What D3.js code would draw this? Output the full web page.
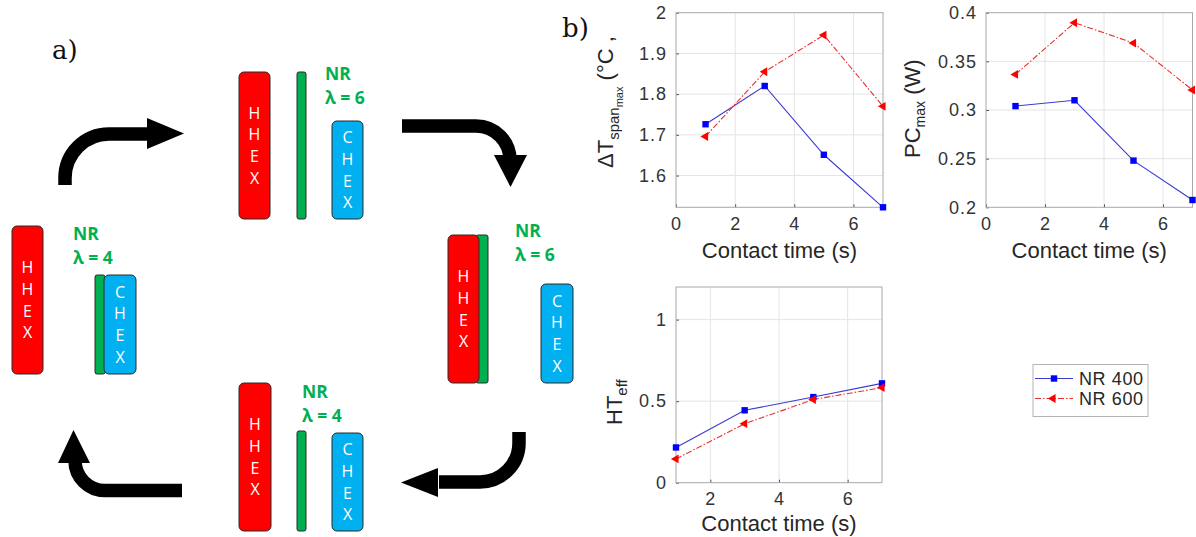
<!DOCTYPE html>
<html>
<head>
<meta charset="utf-8">
<script src="https://cdn.jsdelivr.net/npm/d3@7"></script>
<style>
  html, body { margin: 0; padding: 0; background: #ffffff; }
  svg { display: block; }
</style>
</head>
<body>
<svg id="fig" width="1196" height="537"></svg>
<script>
// ---------------- DATA ----------------
const contactTime = [1, 3, 5, 7];
const seriesNames = ["NR 400", "NR 600"];
const dTspan400 = [1.726, 1.820, 1.651, 1.522];
const dTspan600 = [1.696, 1.855, 1.945, 1.770];
const pcMax400 = [0.304, 0.310, 0.248, 0.2075];
const pcMax600 = [0.3366, 0.3897, 0.3688, 0.3206];
const htEff400 = [0.216, 0.444, 0.525, 0.609];
const htEff600 = [0.146, 0.362, 0.510, 0.583];
const xTicksTop = [0, 2, 4, 6];
const xTicksBottom = [2, 4, 6];
const yTicksDT = [1.6, 1.7, 1.8, 1.9, 2];
const yTicksPC = [0.2, 0.25, 0.3, 0.35, 0.4];
const yTicksHT = [0, 0.5, 1];
const xAxisTitle = "Contact time (s)";

// ---------------- SETUP ----------------
const svg = d3.select("#fig");
const chartFont = "'Liberation Sans', Arial, Helvetica, sans-serif";
const diagFont = "'Open Sans', 'Noto Sans', sans-serif";
const textCol = "#262626";
const blue = "#0000ff", red = "#ff0000";

// ---------------- PANEL (b) ----------------
function drawPanel(cfg) {
  const g = svg.append("g");
  const x = d3.scaleLinear().domain(cfg.xDomain).range([cfg.left, cfg.left + cfg.width]);
  const y = d3.scaleLinear().domain(cfg.yDomain).range([cfg.top + cfg.height, cfg.top]);

  g.append("rect").attr("x", cfg.left).attr("y", cfg.top)
    .attr("width", cfg.width).attr("height", cfg.height).attr("fill", "#fff");

  // grid
  g.append("g").selectAll("line").data(cfg.xTicks.filter(t => x(t) > cfg.left + 1 && x(t) < cfg.left + cfg.width - 1))
    .join("line")
    .attr("x1", d => x(d)).attr("x2", d => x(d))
    .attr("y1", cfg.top).attr("y2", cfg.top + cfg.height)
    .attr("stroke", "#e4e4e4").attr("stroke-width", 1);
  g.append("g").selectAll("line").data(cfg.yTicks.filter(t => y(t) > cfg.top + 1 && y(t) < cfg.top + cfg.height - 1))
    .join("line")
    .attr("x1", cfg.left).attr("x2", cfg.left + cfg.width)
    .attr("y1", d => y(d)).attr("y2", d => y(d))
    .attr("stroke", "#e4e4e4").attr("stroke-width", 1);

  // axes
  const ax = g.append("g").attr("transform", `translate(0,${cfg.top + cfg.height})`)
    .call(d3.axisBottom(x).tickValues(cfg.xTicks).tickFormat(d => String(d))
      .tickSizeInner(-3).tickSizeOuter(0).tickPadding(10));
  const ay = g.append("g").attr("transform", `translate(${cfg.left},0)`)
    .call(d3.axisLeft(y).tickValues(cfg.yTicks).tickFormat(d => String(d))
      .tickSizeInner(-3).tickSizeOuter(0).tickPadding(9));
  [ax, ay].forEach(a => {
    a.select(".domain").remove();
    a.selectAll(".tick line").attr("stroke", "#555");
    a.selectAll(".tick text").attr("fill", "#333").attr("font-family", chartFont)
      .attr("font-size", 18).attr("letter-spacing", 1);
  });

  // box
  g.append("rect").attr("x", cfg.left).attr("y", cfg.top)
    .attr("width", cfg.width).attr("height", cfg.height)
    .attr("fill", "none").attr("stroke", "#a8a8a8").attr("stroke-width", 1);

  // series
  const line = d3.line().x(d => x(d[0])).y(d => y(d[1]));
  const s400 = contactTime.map((t, i) => [t, cfg.v400[i]]);
  const s600 = contactTime.map((t, i) => [t, cfg.v600[i]]);
  g.append("path").datum(s400).attr("d", line)
    .attr("fill", "none").attr("stroke", "#3a3ad0").attr("stroke-width", 1.1);
  g.append("path").datum(s600).attr("d", line)
    .attr("fill", "none").attr("stroke", "#e83030").attr("stroke-width", 1.1)
    .attr("stroke-dasharray", "6,2,1.5,2");
  g.append("g").selectAll("rect").data(s400).join("rect")
    .attr("x", d => x(d[0]) - 3.2).attr("y", d => y(d[1]) - 3.2)
    .attr("width", 6.4).attr("height", 6.4).attr("fill", blue);
  const tri = d3.symbol().type(d3.symbolTriangle).size(34);
  g.append("g").selectAll("path").data(s600).join("path")
    .attr("d", tri)
    .attr("transform", d => `translate(${x(d[0])},${y(d[1])}) rotate(-90)`)
    .attr("fill", red);

  // x title
  g.append("text").attr("x", cfg.left + cfg.width / 2).attr("y", cfg.top + cfg.height + cfg.xTitleOffset)
    .attr("text-anchor", "middle").attr("font-family", chartFont).attr("font-size", 22)
    .attr("fill", textCol).text(xAxisTitle);

  // y title
  const yt = g.append("text")
    .attr("transform", `translate(${cfg.yTitleX},${cfg.yTitleY}) rotate(-90)`)
    .attr("font-family", chartFont).attr("fill", textCol).attr("font-size", 22);
  cfg.yTitle.forEach(p => {
    yt.append("tspan").attr("font-size", p.size).attr("dy", p.dy || 0).text(p.t);
  });
  return g;
}

drawPanel({
  left: 676, top: 12.7, width: 207, height: 194.6,
  xDomain: [0, 7], yDomain: [1.522, 2],
  xTicks: xTicksTop, yTicks: yTicksDT,
  v400: dTspan400, v600: dTspan600, xTitleOffset: 51,
  yTitleX: 613, yTitleY: 168,
  yTitle: [
    { t: "\u0394T", size: 22 },
    { t: "span", size: 15, dy: 6 },
    { t: "max", size: 11, dy: 4 },
    { t: " (\u00B0C ,", size: 22, dy: -10 }
  ]
});

drawPanel({
  left: 986, top: 12.7, width: 206.5, height: 194.6,
  xDomain: [0, 7], yDomain: [0.2, 0.4],
  xTicks: xTicksTop, yTicks: yTicksPC,
  v400: pcMax400, v600: pcMax600, xTitleOffset: 51,
  yTitleX: 920, yTitleY: 158,
  yTitle: [
    { t: "PC", size: 22 },
    { t: "max", size: 14, dy: 5 },
    { t: " (W)", size: 22, dy: -5 }
  ]
});

drawPanel({
  left: 676, top: 287, width: 206, height: 195.7,
  xDomain: [1, 7], yDomain: [0, 1.2],
  xTicks: xTicksBottom, yTicks: yTicksHT,
  v400: htEff400, v600: htEff600, xTitleOffset: 48,
  yTitleX: 622, yTitleY: 425,
  yTitle: [
    { t: "HT", size: 22 },
    { t: "eff", size: 15, dy: 5 }
  ]
});

// legend
(function () {
  const g = svg.append("g");
  g.append("rect").attr("x", 1033).attr("y", 364.5).attr("width", 115).attr("height", 52)
    .attr("fill", "#fff").attr("stroke", "#b4b4b4").attr("stroke-width", 1);
  const rows = [
    { name: seriesNames[0], y: 378.5, col: "#3a3ad0", dash: null, mark: "sq" },
    { name: seriesNames[1], y: 398.5, col: "#e83030", dash: "6,2,1.5,2", mark: "tri" }
  ];
  rows.forEach(r => {
    g.append("line").attr("x1", 1035).attr("x2", 1073).attr("y1", r.y).attr("y2", r.y)
      .attr("stroke", r.col).attr("stroke-width", 1.1).attr("stroke-dasharray", r.dash);
    if (r.mark === "sq") {
      g.append("rect").attr("x", 1054 - 3.2).attr("y", r.y - 3.2).attr("width", 6.4).attr("height", 6.4).attr("fill", blue);
    } else {
      g.append("path").attr("d", d3.symbol().type(d3.symbolTriangle).size(34))
        .attr("transform", `translate(1053,${r.y}) rotate(-90)`).attr("fill", red);
    }
    g.append("text").attr("x", 1079).attr("y", r.y + 6.5)
      .attr("font-family", chartFont).attr("font-size", 18).attr("letter-spacing", 0.6)
      .attr("fill", textCol).text(r.name);
  });
})();

// ---------------- PANEL (a) schematic ----------------
const cRed = "#ff0000", cGreen = "#00b050", cBlue = "#00b0f0";
const dg = svg.append("g");

function rrect(x, y, w, h, fill, r) {
  dg.append("rect").attr("x", x).attr("y", y).attr("width", w).attr("height", h)
    .attr("rx", r).attr("ry", r).attr("fill", fill).attr("stroke", "#2a2a2a").attr("stroke-width", 1);
}
function letters(cx, cy, str) {
  const n = str.length, step = 21.7;
  str.split("").forEach((c, i) => {
    dg.append("text").attr("x", cx).attr("y", cy + (i - (n - 1) / 2) * step)
      .attr("dy", "0.36em").attr("text-anchor", "middle")
      .attr("font-family", diagFont).attr("font-size", 16).attr("fill", "#fff").text(c);
  });
}
function hex(x, y, w, h, fill, label) {
  rrect(x, y, w, h, fill, 5);
  letters(x + w / 2, y + h / 2, label);
}
function nrLabel(x, y, lam) {
  dg.append("text").attr("x", x).attr("y", y).attr("font-family", diagFont)
    .attr("font-weight", 700).attr("font-size", 17.5).attr("fill", cGreen).text("NR");
  dg.append("text").attr("x", x).attr("y", y + 24).attr("font-family", diagFont)
    .attr("font-weight", 700).attr("font-size", 17.5).attr("fill", cGreen).text("\u03BB = " + lam);
}

// top state
hex(239, 72, 31, 147, cRed, "HHEX");
rrect(297, 72, 9, 147, cGreen, 2);
hex(332, 121, 31, 98, cBlue, "CHEX");
nrLabel(325, 80, 6);

// right state
rrect(476, 235, 12, 148, cGreen, 2);
hex(448, 235, 31, 148, cRed, "HHEX");
hex(541, 284, 32, 99, cBlue, "CHEX");
nrLabel(515, 237, 6);

// left state
hex(12, 226, 31, 148, cRed, "HHEX");
rrect(95, 275, 10, 99, cGreen, 2);
hex(104, 275, 32, 99, cBlue, "CHEX");
nrLabel(73, 240, 4);

// bottom state
hex(239, 383, 32, 148, cRed, "HHEX");
rrect(297, 431, 9, 100, cGreen, 2);
hex(332, 433, 31, 98, cBlue, "CHEX");
nrLabel(302, 398, 4);

// arrows
function arrow(d, head) {
  dg.append("path").attr("d", d).attr("fill", "none").attr("stroke", "#000")
    .attr("stroke-width", 13.5);
  dg.append("polygon").attr("points", head.map(p => p.join(",")).join(" ")).attr("fill", "#000");
}
arrow("M65,185 L65,178 A44,44 0 0 1 109,134 L150,134", [[147, 118], [184, 133.5], [147, 149]]);
arrow("M402,126 L476,126 A34,34 0 0 1 510,160", [[494, 155], [527, 155], [510.5, 187]]);
arrow("M519,432 L519,443 A39,39 0 0 1 480,482 L439,482", [[438, 468], [401, 482.5], [438, 497]]);
arrow("M182,490.5 L105,490.5 A30,30 0 0 1 75,460.5", [[58, 463], [90, 463], [73.5, 430]]);

// panel letters
svg.append("text").attr("x", 52).attr("y", 59).attr("font-family", "'DejaVu Serif', serif")
  .attr("font-size", 26).attr("fill", "#111").text("a)");
svg.append("text").attr("x", 562).attr("y", 37).attr("font-family", "'DejaVu Serif', serif")
  .attr("font-size", 26).attr("fill", "#111").text("b)");
</script>
</body>
</html>
